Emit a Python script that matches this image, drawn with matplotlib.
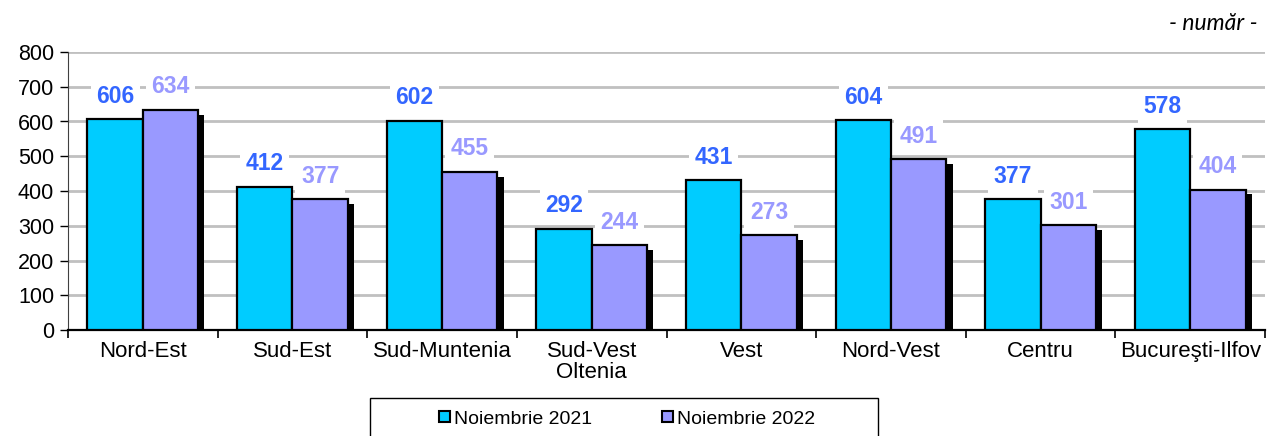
import matplotlib
matplotlib.use("Agg")
import matplotlib.pyplot as plt
import numpy as np
from matplotlib.patches import Patch, Rectangle

categories = ["Nord-Est", "Sud-Est", "Sud-Muntenia", "Sud-Vest\nOltenia", "Vest",
              "Nord-Vest", "Centru", "Bucureşti-Ilfov"]
series_2021 = [606, 412, 602, 292, 431, 604, 377, 578]
series_2022 = [634, 377, 455, 244, 273, 491, 301, 404]
series_names = ["Noiembrie 2021", "Noiembrie 2022"]
yticks = [0, 100, 200, 300, 400, 500, 600, 700, 800]

plt.rcParams['font.family'] = ['Liberation Sans', 'DejaVu Sans']

fig = plt.figure(figsize=(12.7, 4.36), dpi=100)
ax = fig.add_axes([68/1270, 1-330/436, 1197/1270, 278/436])

x = np.arange(len(categories)) + 0.5
w = 0.37
c1, c2 = "#00CCFF", "#9999FF"
lc1, lc2 = "#3366FF", "#9999FF"

# shadow (second series only)
dx = 0.042
for xi, v in zip(x, series_2022):
    ax.bar(xi + w/2 + dx, v - 14, w, color="black", zorder=2, linewidth=0)

ax.bar(x - w/2, series_2021, w, color=c1, edgecolor="black", linewidth=1.6, zorder=3)
ax.bar(x + w/2, series_2022, w, color=c2, edgecolor="black", linewidth=1.6, zorder=3)

for xi, v in zip(x, series_2021):
    ax.text(xi - w/2, v + 66, str(v), ha="center", va="center", fontsize=16.5,
            fontweight="bold", color=lc1, zorder=4,
            bbox=dict(facecolor="white", edgecolor="none", pad=4))
for xi, v in zip(x, series_2022):
    ax.text(xi + w/2, v + 66, str(v), ha="center", va="center", fontsize=16.5,
            fontweight="bold", color=lc2, zorder=4,
            bbox=dict(facecolor="white", edgecolor="none", pad=4))

ax.set_xlim(0, len(categories))
ax.set_ylim(0, 800)
ax.set_yticks(yticks)
ax.set_yticklabels([str(t) for t in yticks], fontsize=15.5)
ax.yaxis.grid(True, color="#C0C0C0", linewidth=2, zorder=0)
ax.set_axisbelow(True)

ax.set_xticks(np.arange(len(categories) + 1))
ax.set_xticklabels([])
ax.set_xticks(x, minor=True)
ax.set_xticklabels(categories, minor=True, fontsize=16, linespacing=1.0)
ax.tick_params(axis="x", which="minor", length=0, pad=8)
ax.tick_params(axis="x", which="major", length=6, width=1.2, direction="out")
ax.tick_params(axis="y", length=6, width=1, direction="out", pad=4)

for s in ["top", "right"]:
    ax.spines[s].set_visible(False)
ax.spines["left"].set_color("#404040")
ax.spines["bottom"].set_linewidth(1.6)

fig.text(1258/1270, 1-24/436, "- număr -", ha="right", va="center",
         fontsize=16.5, style="italic", family=["Lato", "DejaVu Sans"])

# legend frame
fig.patches.append(Rectangle((370/1270, -0.05), 508/1270, 0.05 + 1-398/436,
                             transform=fig.transFigure, facecolor="white",
                             edgecolor="black", linewidth=1.0, zorder=1))
handles = [Patch(facecolor=c1, edgecolor="black", linewidth=1.5),
           Patch(facecolor=c2, edgecolor="black", linewidth=1.5)]
leg = fig.legend(handles, series_names, loc="center",
                 bbox_to_anchor=(627/1270, 1-419/436),
                 ncol=2, fontsize=14, frameon=False,
                 handlelength=0.55, handleheight=0.55,
                 handletextpad=0.2, borderpad=0, borderaxespad=0, columnspacing=3.6)

fig.savefig("out.png", dpi=100)
